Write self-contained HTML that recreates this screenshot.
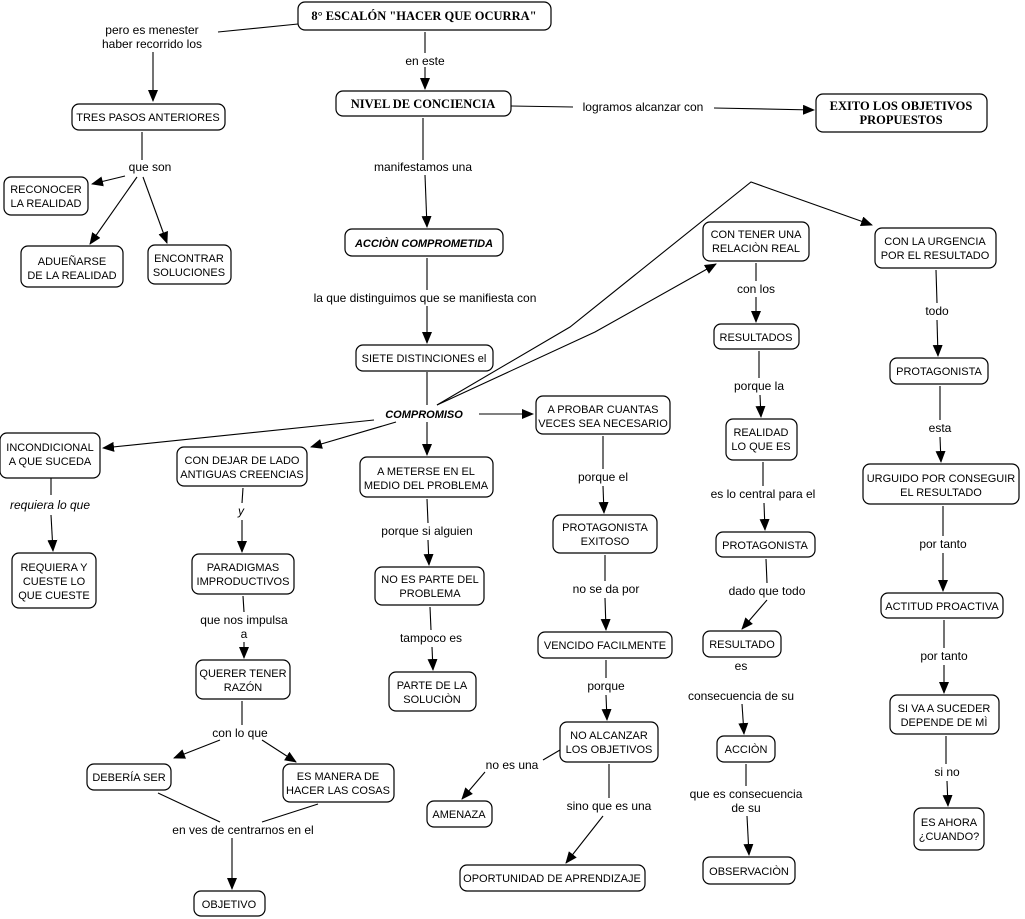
<!DOCTYPE html>
<html><head><meta charset="utf-8"><style>
html,body{margin:0;padding:0;background:#fff}
svg{display:block}
text{font-family:"Liberation Sans","DejaVu Sans",sans-serif;font-size:11px;fill:#000;text-anchor:middle}
.b{font-size:11px}
.l{font-size:12px}
.t{font-family:"Liberation Serif","DejaVu Serif",serif;font-weight:bold;font-size:12.5px}
rect{fill:#fff;stroke:#000;stroke-width:1.2}
line,polyline{stroke:#000;stroke-width:1.1;fill:none}
.a{marker-end:url(#ar)}
</style></head><body>
<svg width="1025" height="919" viewBox="0 0 1025 919" xmlns="http://www.w3.org/2000/svg">
<defs><marker id="ar" markerWidth="12" markerHeight="10" refX="11" refY="5" orient="auto" markerUnits="userSpaceOnUse"><path d="M0,0 L12,5 L0,10 Z" fill="#000"/></marker></defs>

<!-- connectors -->
<line x1="298" y1="24" x2="218" y2="32"/>
<line class="a" x1="153" y1="52" x2="153" y2="101"/>
<line x1="425" y1="32" x2="425" y2="53"/>
<line class="a" x1="425" y1="67" x2="425" y2="89"/>
<line x1="511" y1="106" x2="573" y2="107"/>
<line class="a" x1="714" y1="108" x2="814" y2="110"/>
<line x1="423" y1="118" x2="423" y2="160"/>
<line class="a" x1="425" y1="175" x2="427" y2="227"/>
<line x1="427" y1="258" x2="427" y2="290"/>
<line class="a" x1="427" y1="306" x2="427" y2="343"/>
<line x1="142" y1="132" x2="142" y2="160"/>
<line class="a" x1="125" y1="176" x2="92" y2="184"/>
<line class="a" x1="137" y1="177" x2="90" y2="244"/>
<line class="a" x1="143" y1="177" x2="167" y2="243"/>
<line x1="427" y1="372" x2="427" y2="405"/>
<line class="a" x1="374" y1="420" x2="103" y2="448"/>
<line class="a" x1="396" y1="422" x2="311" y2="447"/>
<line class="a" x1="427" y1="422" x2="427" y2="455"/>
<line class="a" x1="479" y1="414" x2="533" y2="414"/>
<polyline class="a" points="437,405 595,332 716,264"/>
<polyline class="a" points="437,405 570,327 751,182 872,225"/>
<line x1="51" y1="477" x2="51" y2="495"/>
<line class="a" x1="51" y1="515" x2="53" y2="551"/>
<line x1="243" y1="488" x2="242" y2="503"/>
<line class="a" x1="242" y1="520" x2="242" y2="552"/>
<line x1="243" y1="596" x2="244" y2="612"/>
<line class="a" x1="244" y1="642" x2="244" y2="658"/>
<line x1="242" y1="701" x2="242" y2="725"/>
<line class="a" x1="220" y1="740" x2="174" y2="758"/>
<line class="a" x1="262" y1="740" x2="296" y2="762"/>
<line x1="158" y1="793" x2="220" y2="822"/>
<line x1="318" y1="804" x2="262" y2="822"/>
<line class="a" x1="232" y1="838" x2="232" y2="889"/>
<line x1="427" y1="499" x2="428" y2="523"/>
<line class="a" x1="428" y1="540" x2="429" y2="565"/>
<line x1="430" y1="607" x2="431" y2="630"/>
<line class="a" x1="432" y1="647" x2="433" y2="670"/>
<line x1="603" y1="436" x2="603" y2="469"/>
<line class="a" x1="603" y1="486" x2="604" y2="513"/>
<line x1="605" y1="555" x2="605" y2="581"/>
<line class="a" x1="605" y1="598" x2="606" y2="630"/>
<line x1="606" y1="660" x2="606" y2="678"/>
<line class="a" x1="606" y1="695" x2="607" y2="720"/>
<line x1="560" y1="750" x2="543" y2="760"/>
<line class="a" x1="485" y1="772" x2="462" y2="799"/>
<line x1="609" y1="764" x2="609" y2="798"/>
<line class="a" x1="603" y1="816" x2="566" y2="863"/>
<line x1="756" y1="263" x2="756" y2="281"/>
<line class="a" x1="756" y1="297" x2="756" y2="322"/>
<line x1="759" y1="351" x2="759" y2="378"/>
<line class="a" x1="760" y1="395" x2="761" y2="417"/>
<line x1="763" y1="462" x2="763" y2="486"/>
<line class="a" x1="764" y1="503" x2="765" y2="530"/>
<line x1="766" y1="559" x2="767" y2="583"/>
<line class="a" x1="767" y1="600" x2="742" y2="629"/>
<line class="a" x1="742" y1="704" x2="744" y2="734"/>
<line x1="746" y1="764" x2="746" y2="786"/>
<line class="a" x1="747" y1="816" x2="749" y2="855"/>
<line x1="936" y1="270" x2="937" y2="303"/>
<line class="a" x1="937" y1="320" x2="938" y2="356"/>
<line x1="940" y1="386" x2="940" y2="420"/>
<line class="a" x1="940" y1="437" x2="941" y2="462"/>
<line x1="943" y1="506" x2="943" y2="536"/>
<line class="a" x1="943" y1="553" x2="943" y2="591"/>
<line x1="944" y1="620" x2="944" y2="648"/>
<line class="a" x1="944" y1="665" x2="944" y2="693"/>
<line x1="946" y1="736" x2="946" y2="764"/>
<line class="a" x1="947" y1="781" x2="948" y2="806"/>

<!-- boxes -->
<rect x="298" y="2" width="253" height="28" rx="7"/>
<rect x="336" y="91" width="175" height="25" rx="7"/>
<rect x="816" y="94" width="171" height="38" rx="7"/>
<rect x="72" y="104" width="153" height="26" rx="7"/>
<rect x="4" y="177" width="84" height="38" rx="7"/>
<rect x="21" y="246" width="102" height="41" rx="7"/>
<rect x="148" y="245" width="83" height="39" rx="7"/>
<rect x="345" y="229" width="158" height="27" rx="7"/>
<rect x="356" y="345" width="137" height="26" rx="7"/>
<rect x="0" y="433" width="100" height="45" rx="7"/>
<rect x="177" y="447" width="130" height="39" rx="7"/>
<rect x="360" y="457" width="133" height="40" rx="7"/>
<rect x="536" y="396" width="134" height="38" rx="7"/>
<rect x="703" y="222" width="106" height="39" rx="7"/>
<rect x="875" y="228" width="121" height="40" rx="7"/>
<rect x="714" y="324" width="85" height="25" rx="7"/>
<rect x="890" y="358" width="98" height="26" rx="7"/>
<rect x="726" y="419" width="71" height="41" rx="7"/>
<rect x="863" y="464" width="156" height="40" rx="7"/>
<rect x="716" y="532" width="99" height="25" rx="7"/>
<rect x="881" y="593" width="122" height="25" rx="7"/>
<rect x="703" y="631" width="78" height="26" rx="7"/>
<rect x="890" y="695" width="109" height="39" rx="7"/>
<rect x="717" y="736" width="58" height="26" rx="7"/>
<rect x="914" y="808" width="70" height="42" rx="7"/>
<rect x="703" y="857" width="92" height="27" rx="7"/>
<rect x="12" y="553" width="84" height="55" rx="7"/>
<rect x="192" y="554" width="102" height="40" rx="7"/>
<rect x="375" y="567" width="109" height="38" rx="7"/>
<rect x="389" y="672" width="87" height="39" rx="7"/>
<rect x="553" y="515" width="104" height="38" rx="7"/>
<rect x="538" y="632" width="134" height="26" rx="7"/>
<rect x="560" y="722" width="98" height="40" rx="7"/>
<rect x="427" y="801" width="65" height="26" rx="7"/>
<rect x="460" y="865" width="185" height="26" rx="7"/>
<rect x="196" y="660" width="94" height="39" rx="7"/>
<rect x="87" y="764" width="84" height="26" rx="7"/>
<rect x="283" y="764" width="111" height="38" rx="7"/>
<rect x="194" y="891" width="71" height="25" rx="7"/>

<!-- box text -->
<text class="t" x="424" y="20">8° ESCALÓN "HACER QUE OCURRA"</text>
<text class="t" x="423" y="108">NIVEL DE CONCIENCIA</text>
<text class="t" x="901" y="110">EXITO LOS OBJETIVOS</text>
<text class="t" x="901" y="124">PROPUESTOS</text>
<text x="148" y="121">TRES PASOS ANTERIORES</text>
<text x="46" y="193">RECONOCER</text><text x="46" y="207">LA REALIDAD</text>
<text x="72" y="265">ADUEÑARSE</text><text x="72" y="279">DE LA REALIDAD</text>
<text x="189" y="262">ENCONTRAR</text><text x="189" y="276">SOLUCIONES</text>
<text x="424" y="247" font-style="italic" font-weight="bold">ACCIÒN COMPROMETIDA</text>
<text x="424" y="362">SIETE DISTINCIONES el</text>
<text x="424" y="418" font-style="italic" font-weight="bold" font-size="12.5">COMPROMISO</text>
<text x="50" y="451">INCONDICIONAL</text><text x="50" y="465">A QUE SUCEDA</text>
<text x="242" y="464">CON DEJAR DE LADO</text><text x="242" y="478">ANTIGUAS CREENCIAS</text>
<text x="426" y="475">A METERSE EN EL</text><text x="426" y="489">MEDIO DEL PROBLEMA</text>
<text x="603" y="413">A PROBAR CUANTAS</text><text x="603" y="427">VECES SEA NECESARIO</text>
<text x="756" y="238">CON  TENER UNA</text><text x="756" y="252">RELACIÒN REAL</text>
<text x="935" y="245">CON LA URGENCIA</text><text x="935" y="259">POR EL RESULTADO</text>
<text x="756" y="341">RESULTADOS</text>
<text x="939" y="375">PROTAGONISTA</text>
<text x="761" y="436">REALIDAD</text><text x="761" y="450">LO QUE ES</text>
<text x="941" y="482">URGUIDO POR CONSEGUIR</text><text x="941" y="496">EL RESULTADO</text>
<text x="765" y="549">PROTAGONISTA</text>
<text x="942" y="610">ACTITUD PROACTIVA</text>
<text x="742" y="648">RESULTADO</text>
<text x="944" y="712">SI VA A SUCEDER</text><text x="944" y="726">DEPENDE DE MÌ</text>
<text x="746" y="753">ACCIÒN</text>
<text x="949" y="826">ES AHORA</text><text x="949" y="840">¿CUANDO?</text>
<text x="749" y="875">OBSERVACIÒN</text>
<text x="54" y="571">REQUIERA Y</text><text x="54" y="585">CUESTE LO</text><text x="54" y="599">QUE CUESTE</text>
<text x="243" y="571">PARADIGMAS</text><text x="243" y="585">IMPRODUCTIVOS</text>
<text x="430" y="583">NO ES PARTE DEL</text><text x="430" y="597">PROBLEMA</text>
<text x="432" y="689">PARTE DE LA</text><text x="432" y="703">SOLUCIÒN</text>
<text x="605" y="531">PROTAGONISTA</text><text x="605" y="545">EXITOSO</text>
<text x="605" y="649">VENCIDO FACILMENTE</text>
<text x="609" y="739">NO ALCANZAR</text><text x="609" y="753">LOS OBJETIVOS</text>
<text x="459" y="818">AMENAZA</text>
<text x="552" y="882">OPORTUNIDAD DE APRENDIZAJE</text>
<text x="243" y="677">QUERER TENER</text><text x="243" y="691">RAZÓN</text>
<text x="129" y="781">DEBERÍA SER</text>
<text x="338" y="780">ES MANERA DE</text><text x="338" y="794">HACER LAS COSAS</text>
<text x="229" y="908">OBJETIVO</text>

<!-- link labels -->
<g class="l">
<text class="l" x="152" y="34">pero es menester</text>
<text class="l" x="152" y="48">haber recorrido los</text>
<text class="l" x="425" y="65">en este</text>
<text class="l" x="643" y="111">logramos alcanzar con</text>
<text class="l" x="423" y="171">manifestamos una</text>
<text class="l" x="150" y="171">que son</text>
<text class="l" x="425" y="302">la que distinguimos que se manifiesta con</text>
<text class="l" x="50" y="509" font-style="italic">requiera lo que</text>
<text class="l" x="241" y="515" font-style="italic">y</text>
<text class="l" x="244" y="624">que nos impulsa</text>
<text class="l" x="244" y="638">a</text>
<text class="l" x="240" y="737">con lo que</text>
<text class="l" x="243" y="834">en ves de centrarnos en el</text>
<text class="l" x="427" y="535">porque si alguien</text>
<text class="l" x="431" y="642">tampoco es</text>
<text class="l" x="603" y="481">porque el</text>
<text class="l" x="606" y="593">no se da por</text>
<text class="l" x="606" y="690">porque</text>
<text class="l" x="512" y="769">no es una</text>
<text class="l" x="609" y="810">sino que es una</text>
<text class="l" x="756" y="293">con los</text>
<text class="l" x="759" y="390">porque la</text>
<text class="l" x="763" y="498">es lo central para el</text>
<text class="l" x="767" y="595">dado que todo</text>
<text class="l" x="741" y="670">es</text>
<text class="l" x="741" y="700">consecuencia de su</text>
<text class="l" x="746" y="798">que es consecuencia</text>
<text class="l" x="746" y="812">de su</text>
<text class="l" x="937" y="315">todo</text>
<text class="l" x="940" y="432">esta</text>
<text class="l" x="943" y="548">por tanto</text>
<text class="l" x="944" y="660">por tanto</text>
<text class="l" x="947" y="776">si no</text>
</g>
</svg>
</body></html>
